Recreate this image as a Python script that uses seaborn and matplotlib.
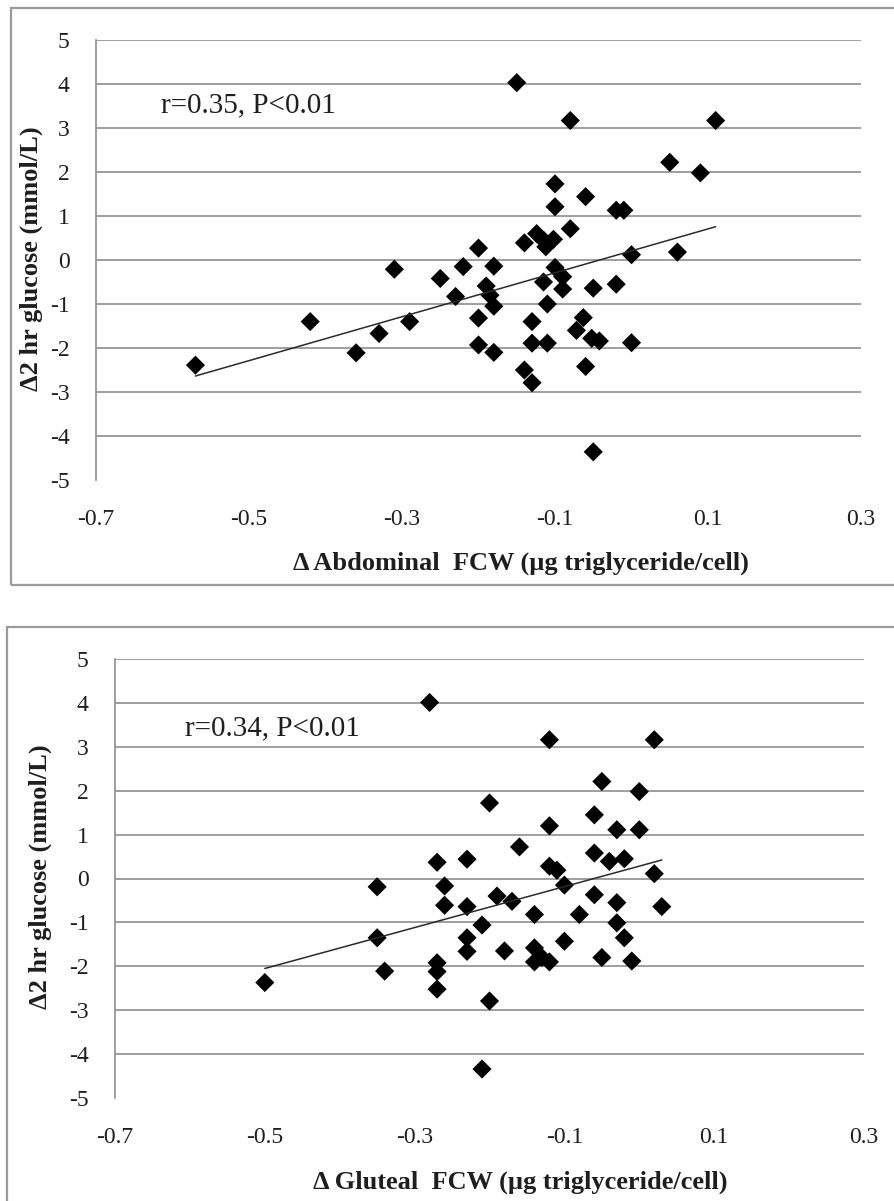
import matplotlib
matplotlib.use("Agg")
import matplotlib.pyplot as plt
import seaborn as sns
import pandas as pd
from matplotlib.patches import Rectangle

# change in abdominal fat cell weight vs change in 2 hr glucose
abd_fcw = [-0.57, -0.42, -0.36, -0.33, -0.31, -0.29, -0.25, -0.23, -0.22, -0.20,
           -0.20, -0.20, -0.19, -0.185, -0.18, -0.18, -0.18, -0.15, -0.14, -0.14,
           -0.13, -0.13, -0.13, -0.124, -0.115, -0.112, -0.102, -0.115, -0.11, -0.11,
           -0.10, -0.10, -0.10, -0.09, -0.09, -0.08, -0.08, -0.06, -0.063, -0.072,
           -0.06, -0.05, -0.052, -0.042, -0.05, -0.02, -0.01, -0.02, 0.0, 0.0,
           0.05, 0.06, 0.09, 0.11]
abd_glucose = [-2.39, -1.40, -2.11, -1.67, -0.21, -1.40, -0.42, -0.83, -0.15, 0.27,
               -1.32, -1.93, -0.59, -0.80, -1.05, -0.14, -2.10, 4.03, 0.39, -2.50,
               -1.40, -1.89, -2.79, 0.60, 0.45, 0.30, 0.47, -0.50, -1.00, -1.89,
               1.73, 1.21, -0.17, -0.38, -0.66, 3.17, 0.71, 1.44, -1.31, -1.60,
               -2.42, -0.64, -1.78, -1.84, -4.36, 1.13, 1.13, -0.55, 0.12, -1.88,
               2.22, 0.18, 1.98, 3.17]

# change in gluteal fat cell weight vs change in 2 hr glucose
glut_fcw = [-0.50, -0.35, -0.35, -0.34, -0.28, -0.27, -0.27, -0.27, -0.27, -0.26,
            -0.26, -0.23, -0.23, -0.23, -0.23, -0.21, -0.21, -0.20, -0.20, -0.19,
            -0.18, -0.17, -0.16, -0.14, -0.14, -0.14, -0.13, -0.12, -0.12, -0.12,
            -0.12, -0.11, -0.10, -0.10, -0.08, -0.06, -0.06, -0.06, -0.05, -0.05,
            -0.04, -0.03, -0.03, -0.03, -0.02, -0.02, -0.01, 0.0, 0.0, 0.02,
            0.02, 0.03]
glut_glucose = [-2.37, -0.19, -1.35, -2.11, 4.01, 0.37, -1.92, -2.12, -2.52, -0.17,
                -0.61, 0.44, -0.64, -1.35, -1.66, -1.06, -4.34, 1.72, -2.79, -0.40,
                -1.65, -0.52, 0.72, -0.82, -1.58, -1.90, -1.80, -1.90, 3.16, 1.20,
                0.28, 0.19, -0.15, -1.43, -0.82, 1.45, 0.58, -0.37, 2.21, -1.80,
                0.39, 1.11, -0.55, -1.01, 0.45, -1.35, -1.88, 1.98, 1.11, 3.16,
                0.11, -0.64]

x_ticks = [-0.7, -0.5, -0.3, -0.1, 0.1, 0.3]
x_tick_labels = ["-0.7", "-0.5", "-0.3", "-0.1", "0.1", "0.3"]
y_ticks = [-5, -4, -3, -2, -1, 0, 1, 2, 3, 4, 5]
y_tick_labels = [str(v) for v in y_ticks]

panels = [
    dict(x=abd_fcw, y=abd_glucose,
         xlabel="\u0394 Abdominal  FCW (\u00b5g triglyceride/cell)",
         note="r=0.35, P<0.01", note_xy=(-0.615, 3.52),
         ax_rect=[96, 40, 861, 480], frame=[11, 8, 900, 585],
         xlab_pos=(0.556, -0.189), ylab_pos=(-0.084, 0.502)),
    dict(x=glut_fcw, y=glut_glucose,
         xlabel="\u0394 Gluteal  FCW (\u00b5g triglyceride/cell)",
         note="r=0.34, P<0.01", note_xy=(-0.607, 3.43),
         ax_rect=[115, 659, 864, 1098], frame=[7, 627, 900, 1206],
         xlab_pos=(0.541, -0.191), ylab_pos=(-0.100, 0.503)),
]

W, H = 895, 1201
sns.set_theme(style="white")
plt.rcParams["font.family"] = ["Liberation Serif", "DejaVu Serif"]

fig = plt.figure(figsize=(W / 100, H / 100), dpi=100)
fig.patch.set_facecolor("white")

grid_col = "#8e8e8e"
text_col = "#1e1e1e"

for p in panels:
    fl, ft, fr, fb = p["frame"]
    fig.patches.append(Rectangle((fl / W, 1 - fb / H), (fr - fl) / W, (fb - ft) / H,
                                 transform=fig.transFigure, fill=False,
                                 edgecolor="#9a9a9a", linewidth=1.6, zorder=0))

    l, t, r, b = p["ax_rect"]
    ax = fig.add_axes([l / W, 1 - b / H, (r - l) / W, (b - t) / H])
    df = pd.DataFrame({"fcw": p["x"], "glucose": p["y"]})
    sns.regplot(data=df, x="fcw", y="glucose", ax=ax, ci=None, marker="D",
                scatter_kws=dict(s=95, color="black", edgecolors="none", alpha=1, zorder=3),
                line_kws=dict(color="#2a2a2a", linewidth=1.1, zorder=4))

    ax.set_xlim(-0.7, 0.3)
    ax.set_ylim(-5, 5)
    ax.set_xticks(x_ticks)
    ax.set_xticklabels(x_tick_labels)
    ax.set_yticks(y_ticks)
    ax.set_yticklabels(y_tick_labels)
    ax.tick_params(axis="both", length=0, labelsize=17, labelcolor=text_col)
    ax.tick_params(axis="x", pad=21)
    ax.tick_params(axis="y", pad=19)

    ax.grid(axis="y", color=grid_col, linewidth=1.2)
    ax.grid(axis="x", visible=False)
    ax.get_ygridlines()[0].set_visible(False)
    for side in ["top", "right", "bottom"]:
        ax.spines[side].set_visible(False)
    ax.spines["left"].set_color(grid_col)
    ax.spines["left"].set_linewidth(1.2)
    ax.set_facecolor("none")

    ax.set_xlabel(p["xlabel"], fontsize=19, fontweight="bold", color=text_col)
    ax.xaxis.set_label_coords(*p["xlab_pos"])
    ax.xaxis.label.set_verticalalignment("center")
    ax.set_ylabel("\u03942 hr glucose (mmol/L)", fontsize=19, fontweight="bold", color=text_col)
    ax.yaxis.set_label_coords(*p["ylab_pos"])
    ax.yaxis.label.set_verticalalignment("center")

    ax.text(p["note_xy"][0], p["note_xy"][1], p["note"], fontsize=21,
            color=text_col, ha="left", va="center")

fig.savefig("out.png", dpi=100, facecolor="white")
